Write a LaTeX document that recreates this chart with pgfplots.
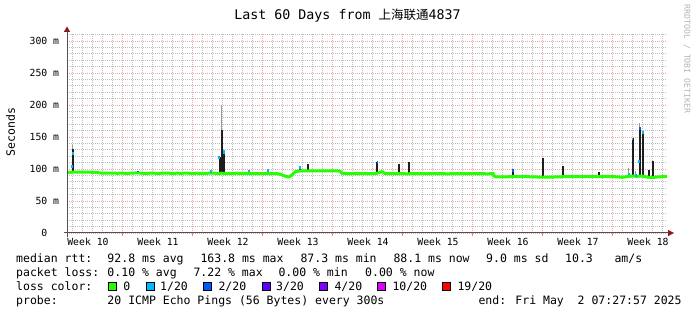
\documentclass[border=0pt]{standalone}
\usepackage{fontspec}
\usepackage{pgfplots}
\pgfplotsset{compat=1.18}
\setmainfont{DejaVu Sans Mono}
\setmonofont{DejaVu Sans Mono}
\newfontfamily\cjk{Noto Sans CJK SC}

\definecolor{rrgreen}{HTML}{26FF00}
\definecolor{rrcyan}{HTML}{00B8FF}
\definecolor{rrblue}{HTML}{0059FF}
\definecolor{rrthree}{HTML}{5E00FF}
\definecolor{rrfour}{HTML}{7E00FF}
\definecolor{rrten}{HTML}{DD00FF}
\definecolor{rrnineteen}{HTML}{FF0000}
\definecolor{smoke}{HTML}{1E1E1E}
\definecolor{smokelt}{HTML}{9A9A9A}
\definecolor{minorgrid}{HTML}{BEBEBE}
\definecolor{majorgrid}{HTML}{EAA8A8}
\definecolor{axisgray}{HTML}{505050}
\definecolor{arrowred}{HTML}{8B1A1A}
\definecolor{wmgray}{HTML}{B4B4B4}

\newcommand\lgfont{\fontsize{11.5bp}{14bp}\selectfont}
\newcommand\axfont{\fontsize{9.8bp}{12bp}\selectfont}
\newcommand\titlefont{\fontsize{13.3bp}{16bp}\selectfont}

\begin{document}
\begin{tikzpicture}
\begin{axis}[
  at={(67bp,82bp)}, anchor=south west,
  scale only axis, width=600bp, height=200bp,
  xmin=0, xmax=60, ymin=0, ymax=312.5,
  axis line style={draw=none},
  unbounded coords=jump,
  /pgf/number format/assume math mode=true,
  xtick={2.1,9.1,16.1,23.1,30.1,37.1,44.1,51.1,58.1},
  xticklabels={Week 10,Week 11,Week 12,Week 13,Week 14,Week 15,Week 16,Week 17,Week 18},
  ytick={0,50,100,150,200,250,300},
  yticklabels={0\hphantom{\ m},50 m,100 m,150 m,200 m,250 m,300 m},
  major tick length=0pt, minor tick length=0pt,
  xmajorgrids=false, ymajorgrids=true,
  minor xtick={0.57,1.57,...,59.57},
  minor ytick={10,20,30,40,60,70,80,90,110,120,130,140,160,170,180,190,210,220,230,240,260,270,280,290,310},
  xminorgrids=true, yminorgrids=true,
  extra x ticks={5.57,12.57,19.57,26.57,33.57,40.57,47.57,54.57},
  extra x tick labels={},
  extra x tick style={grid=major},
  major grid style={majorgrid, line width=0.8bp, dash pattern=on 1bp off 1bp},
  minor grid style={minorgrid, line width=0.8bp, dash pattern=on 1bp off 1bp},
  ticklabel style={font=\axfont},
  yticklabel style={anchor=east, inner sep=0pt, xshift=-7.7bp},
  xticklabel style={anchor=north, inner sep=0pt, yshift=-5bp},
]
% light smoke
\addplot[smokelt, line width=1.2bp] coordinates {
(0.57,130)(0.57,138)(0.57,nan)
(15.45,160)(15.45,200)(15.45,nan)
(56.17,92)(56.17,101)(56.17,nan)
(57.27,162)(57.27,172)(57.27,nan)
(56.85,90)(56.85,97)
};
% dark smoke
\addplot[smoke, line width=2bp] coordinates {
(0.57,93)(0.57,132)(0.57,nan)
(7.1,93)(7.1,97)(7.1,nan)
(14.4,93)(14.4,96)(14.4,nan)
(15.25,93)(15.25,119)(15.25,nan)
(15.45,93)(15.45,161)(15.45,nan)
(15.65,93)(15.65,127)(15.65,nan)
(18.17,92)(18.17,98)(18.17,nan)
(20.1,92)(20.1,98)(20.1,nan)
(23.3,96)(23.3,102)(23.3,nan)
(24.1,96)(24.1,108)(24.1,nan)
(31.0,92)(31.0,111)(31.0,nan)
(33.17,92)(33.17,108)(33.17,nan)
(34.17,92)(34.17,111)(34.17,nan)
(44.6,87)(44.6,99)(44.6,nan)
(47.57,87)(47.57,117)(47.57,nan)
(49.57,87)(49.57,105)(49.57,nan)
(53.17,87)(53.17,95)(53.17,nan)
(56.57,88)(56.57,148)(56.57,nan)
(57.27,88)(57.27,164)(57.27,nan)
(57.6,88)(57.6,158)(57.6,nan)
(58.17,87)(58.17,99)(58.17,nan)
(58.6,87)(58.6,112)
};
% median rtt, no loss
\addplot[rrgreen, line width=3bp] coordinates {
(0,95.5)(0.25,94.5)(0.5,95)(1,95.2)(1.5,95)(2,95.3)(2.5,94.8)(3,94.6)(3.4,93.6)(4,93.4)(4.5,93.6)(5,93.3)(5.5,93.5)(6,93.2)(6.5,93.5)(7,94)(7.3,93.5)(8,93.2)(8.5,93.6)(9,93.2)(9.5,93.4)(10,93.6)(10.5,93.2)(11,93.4)(11.5,93.3)(12,93.5)(12.5,93.2)(13,93.4)(13.5,93.1)(14,93.3)(14.5,93.6)(15,93.2)(15.5,93.4)(16,93.0)(16.5,93.2)(17,93.4)(17.5,93.0)(18,93.2)(18.5,92.6)(19,93.0)(19.5,92.8)(20,93.1)(20.5,92.7)(21,92.8)(21.4,91.5)(21.7,89.5)(22,88)(22.2,87.5)(22.4,89.5)(22.6,92)(22.8,95.5)(23.2,96.8)(24,97.2)(25,97)(26,97.2)(27,97)(27.3,96.5)(27.5,93.5)(28,92.8)(29,93)(30,92.6)(30.8,92.8)(31.2,94)(31.5,96)(31.8,93)(32.5,92.7)(33,92.9)(34,92.5)(35,92.8)(36,92.6)(37,92.9)(38,92.5)(39,92.8)(40,92.6)(41,92.9)(42,92.5)(42.6,92.7)(42.75,88.5)(43,87.5)(44,87.8)(45,88.3)(46,88)(47,87.5)(48,87.2)(49,87.6)(50,88.2)(51,88)(52,88.3)(53,88)(54,88.4)(55,87.8)(55.5,87)(56,88)(56.5,89)(57,88.5)(57.5,89)(58,87.5)(58.5,86.5)(59,87.5)(59.5,88)(60,88.1)
};
% median rtt, 1/20 loss
\addplot[rrcyan, line width=1.6bp] coordinates {
(0.47,101)(0.47,107)(0.47,nan)
(0.57,122)(0.57,127)(0.57,nan)
(14.4,94)(14.4,98)(14.4,nan)
(15.22,115)(15.22,121)(15.22,nan)
(15.68,124)(15.68,129)(15.68,nan)
(18.17,96)(18.17,99)(18.17,nan)
(20.1,96)(20.1,100)(20.1,nan)
(23.3,100)(23.3,104)(23.3,nan)
(56.55,145)(56.55,149)(56.55,nan)
(57.17,109)(57.17,114)(57.17,nan)
(57.62,155)(57.62,159)(57.62,nan)
(56.2,90)(56.2,94)(56.2,nan)
(56.9,88)(56.9,92)
};
% median rtt, 2/20 loss
\addplot[rrblue, line width=1.6bp] coordinates {
(7.1,95)(7.1,97)(7.1,nan)
(31.05,108)(31.05,112)(31.05,nan)
(44.6,95)(44.6,100)(44.6,nan)
(57.3,161)(57.3,166)
};
\end{axis}

\begin{scope}[yshift=315bp, x=1bp, y=-1bp]
% axes
\draw[axisgray, line width=1bp] (67,237) -- (67,31);
\fill[arrowred] (67,26.5) -- (63.8,32) -- (70.2,32) -- cycle;
\draw[axisgray, line width=1bp] (64,233) -- (668,233);
\fill[arrowred] (674,233) -- (668,229.8) -- (668,236.2) -- cycle;
\foreach \i in {0,...,7} \draw[majorgrid!80!red, line width=1bp] ({122.7+70*\i},233.5) -- ({122.7+70*\i},236.5);

% title
\node[anchor=base, inner sep=0pt] at (347.5,19.5) {\titlefont Last 60 Days from {\cjk\fontsize{12.5bp}{16bp}\selectfont 上海联通}4837};
% y label
\node[rotate=90, inner sep=0pt] at (10.5,132) {\lgfont Seconds};
% watermark
\node[rotate=-90, inner sep=0pt, text=wmgray] at (687,59) {\fontsize{8.2bp}{10bp}\selectfont RRDTOOL / TOBI OETIKER};

% legend
\begin{scope}[every node/.style={anchor=base west, inner sep=0pt, font=\lgfont}]
\node at (16,262.5) {median rtt:};
\node at (107.3,262.5) {92.8 ms avg};
\node at (200.3,262.5) {163.8 ms max};
\node at (300.3,262.5) {87.3 ms min};
\node at (393.3,262.5) {88.1 ms now};
\node at (486,262.5) {9.0 ms sd};
\node at (565,262.5) {10.3};
\node at (614.3,262.5) {am/s};

\node at (16,276.5) {packet loss:};
\node at (107.3,276.5) {0.10 \% avg};
\node at (193.3,276.5) {7.22 \% max};
\node at (278.3,276.5) {0.00 \% min};
\node at (365,276.5) {0.00 \% now};

\node at (16,290.5) {loss color:};
\node at (123.3,290.5) {0};
\node at (160,290.5) {1/20};
\node at (218.3,290.5) {2/20};
\node at (276,290.5) {3/20};
\node at (334.3,290.5) {4/20};
\node at (392.3,290.5) {10/20};
\node at (457.3,290.5) {19/20};

\node at (16,304.5) {probe:};
\node at (107.3,304.5) {20 ICMP Echo Pings (56 Bytes) every 300s};
\node at (478.3,304.5) {end: Fri May\ \ 2 07:27:57 2025};
\end{scope}
\foreach \xx/\cc in {108.5/rrgreen,145.9/rrcyan,203.5/rrblue,261.9/rrthree,319.5/rrfour,377.5/rrten,442.5/rrnineteen}
  \draw[black, line width=0.8bp, fill=\cc] (\xx,282.2) rectangle ++(8.2,8.6);
\end{scope}

\pgfresetboundingbox
\path[use as bounding box] (0,0) rectangle (697bp,315bp);
\end{tikzpicture}
\end{document}
